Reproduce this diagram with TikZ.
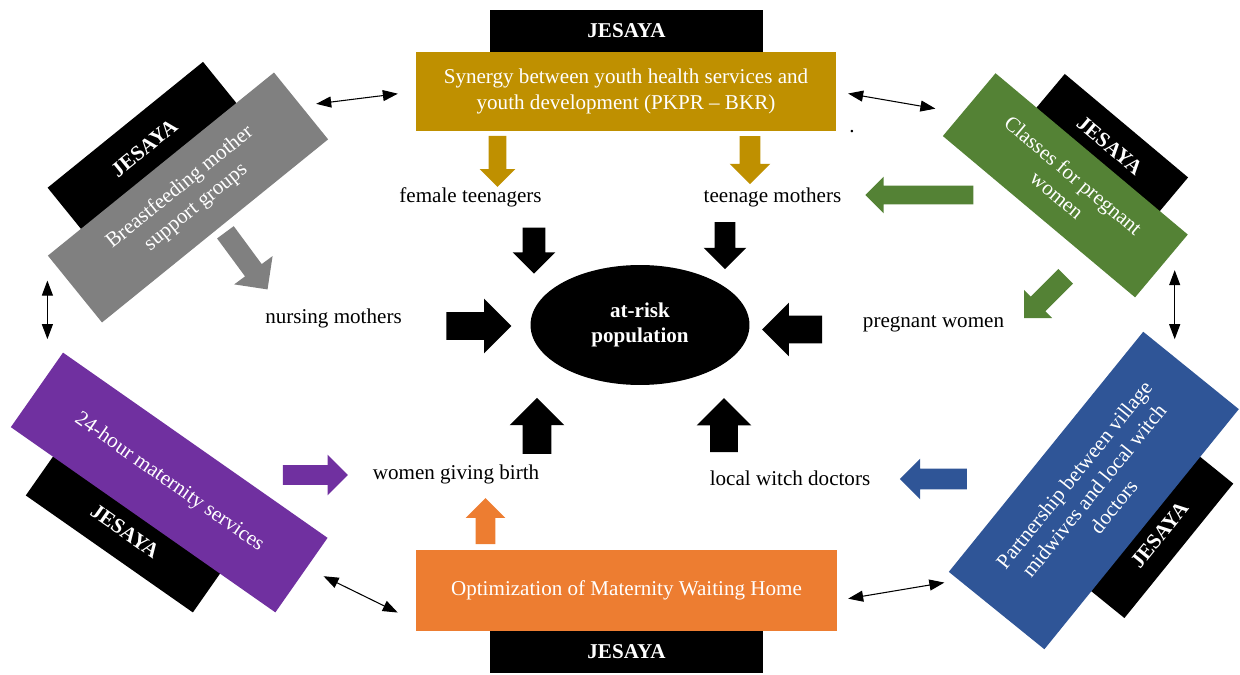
\documentclass[tikz,border=0pt,12pt]{standalone}
\usepackage{fontspec}
\setmainfont{Liberation Serif}
\usepackage{tikz}
\usetikzlibrary{arrows.meta,shapes.geometric,shapes.arrows,calc}

\definecolor{synergygold}{HTML}{BF9000}
\definecolor{waitorange}{HTML}{ED7D31}
\definecolor{breastgray}{HTML}{808080}
\definecolor{classgreen}{HTML}{548235}
\definecolor{maternitypurple}{HTML}{7030A0}
\definecolor{partnerblue}{HTML}{2F5597}

\tikzset{
  jesayabox/.style={
    fill=black,
    text=white,
    font=\bfseries,
    inner sep=0pt,
    align=center
  },
  programbox/.style={inner sep=0pt, text=white, align=center},
  groupname/.style={inner sep=1pt},
  blockarrow/.style 2 args={single arrow, inner xsep=0pt, inner ysep=#1, outer sep=0pt, single arrow head extend=#2},
  linkarrow/.style={{Triangle[length=3mm,width=2.2mm]}-{Triangle[length=3mm,width=2.2mm]}, line width=0.6pt}
}

\begin{document}
\begin{tikzpicture}[x=0.02cm, y=-0.02cm]
\useasboundingbox (0,0) rectangle (1240,675);

% programmes round the centre
\node[jesayabox, minimum width=5.46cm, minimum height=0.84cm] (jTop) at (626.5,31) {JESAYA};
\node[programbox, fill=synergygold, minimum width=8.4cm, minimum height=1.58cm] (synergy) at (626,91.5) {Synergy between youth health services and\\youth development (PKPR -- BKR)};
\node[jesayabox, minimum width=5.46cm, minimum height=0.84cm] (jBottom) at (626.5,652) {JESAYA};
\node[programbox, fill=waitorange, minimum width=8.42cm, minimum height=1.62cm] (waiting) at (626.5,590.5) {Optimization of Maternity Waiting Home};

\node[jesayabox, rotate=39, minimum width=4cm, minimum height=1.2cm] (jBreast) at (144.2,148.1) {JESAYA};
\node[programbox, fill=breastgray, rotate=39, minimum width=5.82cm, minimum height=1.72cm] (breast) at (188,197.5) {Breastfeeding mother\\support groups};
\node[jesayabox, rotate=-40, minimum width=3.22cm, minimum height=1.04cm] (jClasses) at (1109.7,145.6) {JESAYA};
\node[programbox, fill=classgreen, rotate=-40, minimum width=5.02cm, minimum height=1.64cm] (classes) at (1065.3,185.3) {Classes for pregnant\\women};
\node[jesayabox, rotate=-35, minimum width=4.08cm, minimum height=1.1cm] (jMaternity) at (125.1,531.4) {JESAYA};
\node[programbox, fill=maternitypurple, rotate=-35, minimum width=6.46cm, minimum height=1.82cm] (maternity) at (169.2,482.5) {24-hour maternity services};
\node[jesayabox, rotate=51, minimum width=3.46cm, minimum height=1cm] (jPartner) at (1159.4,535.1) {JESAYA};
\node[programbox, fill=partnerblue, rotate=51, minimum width=6.18cm, minimum height=2.46cm] (partner) at (1093.8,490.5) {Partnership between village\\midwives and local witch\\doctors};

% centre and groups
\node[ellipse, fill=black, text=white, font=\bfseries, align=center, inner sep=0pt, minimum width=4.38cm, minimum height=2.4cm] (risk) at (640,325) {at-risk\\population};
\node[groupname] (teenF) at (470.5,197) {female teenagers};
\node[groupname] (teenM) at (772.5,197) {teenage mothers};
\node[groupname] (nursing) at (333.5,318) {nursing mothers};
\node[groupname] (pregnant) at (933.5,324) {pregnant women};
\node[groupname] (giving) at (456,474) {women giving birth};
\node[groupname] (witch) at (790,478) {local witch doctors};
\node[inner sep=0pt] (dot) at (852,132) {.};

% programme -> group arrows
\node[blockarrow={0.17cm}{0.18cm}, fill=synergygold, minimum height=1.02cm, rotate=-90] (synToF) at (497.5,157) {};
\node[blockarrow={0.2cm}{0.2cm}, fill=synergygold, minimum height=0.96cm, rotate=-90] (synToM) at (750,155) {};
\node[blockarrow={0.18cm}{0.18cm}, fill=classgreen, minimum height=2.16cm, rotate=180] (claToM) at (924,195) {};
\node[blockarrow={0.2cm}{0.19cm}, fill=classgreen, minimum height=1.18cm, rotate=225] (claToP) at (1048.5,293.5) {};
\node[blockarrow={0.2cm}{0.27cm}, fill=breastgray, minimum height=1.42cm, rotate=-53.6] (bfToN) at (243.4,256.7) {};
\node[blockarrow={0.19cm}{0.21cm}, fill=maternitypurple, minimum height=1.3cm] (matToG) at (310.5,475) {};
\node[blockarrow={0.19cm}{0.2cm}, fill=waitorange, minimum height=0.92cm, rotate=90] (waitToG) at (485.5,526) {};
\node[blockarrow={0.2cm}{0.2cm}, fill=partnerblue, minimum height=1.34cm, rotate=180] (parToW) at (938.5,479) {};

% group -> centre arrows
\node[blockarrow={0.22cm}{0.2cm}, fill=black, minimum height=0.92cm, rotate=-90] (inTL) at (534,245) {};
\node[blockarrow={0.2cm}{0.22cm}, fill=black, minimum height=0.94cm, rotate=-90] (inTR) at (725,240.5) {};
\node[blockarrow={0.27cm}{0.27cm}, fill=black, minimum height=1.3cm] (inL) at (472,326) {};
\node[blockarrow={0.27cm}{0.26cm}, fill=black, minimum height=1.2cm, rotate=180] (inR) at (799,329.5) {};
\node[blockarrow={0.28cm}{0.26cm}, fill=black, minimum height=1.12cm, rotate=90] (inBL) at (537,433) {};
\node[blockarrow={0.27cm}{0.27cm}, fill=black, minimum height=1.08cm, rotate=90] (inBR) at (724,432) {};

% links between programmes
\draw[linkarrow, shorten <=0.3cm, shorten >=0.36cm] (breast.east) -- (synergy.west);
\draw[linkarrow, shorten <=0.24cm, shorten >=0.68cm] (synergy.east) -- ([yshift=-0.2cm]classes.west);
\draw[linkarrow, shorten <=0.08cm, shorten >=0.62cm] ([xshift=0.26cm]classes.east) -- ([xshift=0.26cm]classes.east |- partner.east);
\draw[linkarrow, shorten <=0.5cm, shorten >=0.26cm] (breast.north west) -- (breast.north west |- maternity.north west);
\draw[linkarrow, shorten <=0.04cm, shorten >=0.4cm] ([xshift=0.4cm]maternity.east) -- ([yshift=0.2cm]waiting.south west);
\draw[linkarrow, shorten <=0.22cm, shorten >=0.08cm] ([yshift=-0.2cm]waiting.east) -- ([yshift=-0.2cm]partner.north west);
\end{tikzpicture}
\end{document}
